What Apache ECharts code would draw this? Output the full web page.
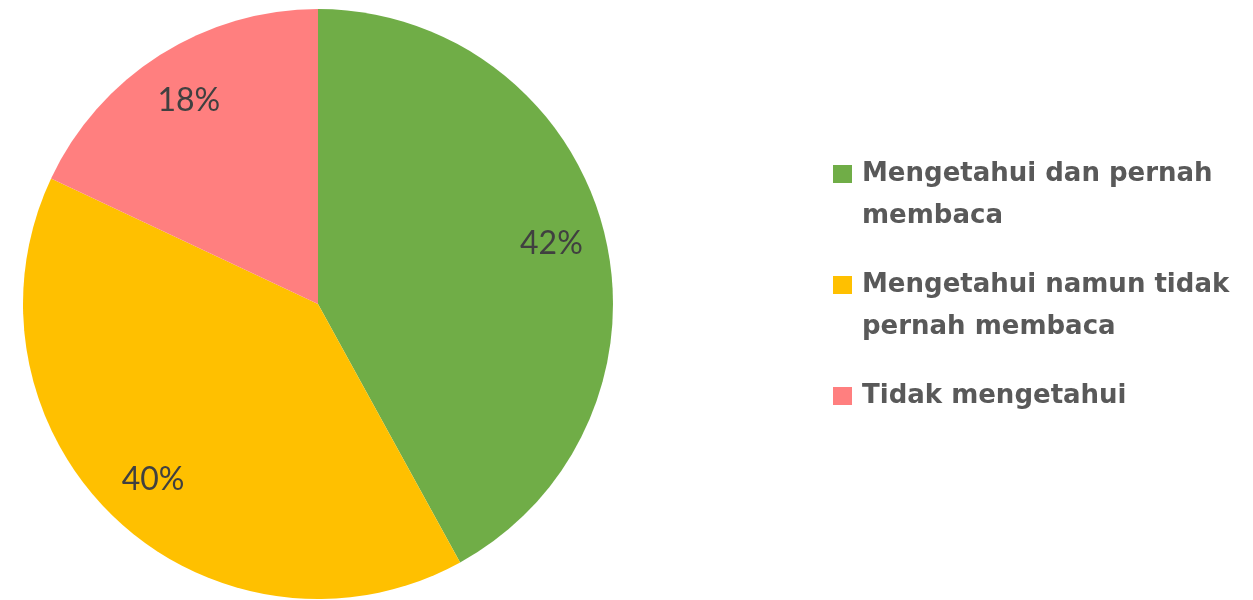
<!DOCTYPE html>
<html>
<head>
<meta charset="utf-8">
<script src="https://cdn.jsdelivr.net/npm/echarts@6/dist/echarts.min.js"></script>
<style>
  html, body { margin: 0; padding: 0; background: #ffffff; }
  #chart { width: 1253px; height: 600px; }
</style>
</head>
<body>
<div id="chart"></div>
<script>
// Survey answers and their shares (percent)
const categories = [
  'Mengetahui dan pernah membaca',
  'Mengetahui namun tidak pernah membaca',
  'Tidak mengetahui'
];
const shares = [42, 40, 18];
// How each legend entry breaks over lines
const legendLines = [
  ['Mengetahui dan pernah', 'membaca'],
  ['Mengetahui namun tidak', 'pernah membaca'],
  ['Tidak mengetahui']
];
const colors = ['#70AD47', '#FFC000', '#FF7F7F'];

const chart = echarts.init(document.getElementById('chart'), null, { renderer: 'canvas' });

const pieData = categories.map((name, i) => ({ name, value: shares[i] }));

// Rich styles: a coloured square per entry, a blank of the same width for wrapped lines
const rich = {
  blank: { width: 19, height: 18, lineHeight: 42 },
  gap: { width: 10, lineHeight: 42 },
  t: {
    fontFamily: 'DejaVu Sans',
    fontWeight: 'bold',
    fontSize: 26,
    color: '#595959',
    lineHeight: 42
  }
};
colors.forEach((c, i) => {
  rich['sq' + i] = { width: 19, height: 18, lineHeight: 42, backgroundColor: c };
});

const option = {
  backgroundColor: '#ffffff',
  animation: false,
  color: colors,
  legend: {
    orient: 'vertical',
    left: 823,
    top: 156,
    itemWidth: 0,
    itemHeight: 0,
    itemGap: 43,
    selectedMode: false,
    data: categories,
    formatter: function (name) {
      const i = categories.indexOf(name);
      return legendLines[i].map((line, k) =>
        (k === 0 ? '{sq' + i + '|}' : '{blank|}') + '{gap|}{t|' + line + '}'
      ).join('\n');
    },
    textStyle: { rich: rich }
  },
  series: [
    {
      type: 'pie',
      center: [318, 304],
      radius: [0, 295],
      startAngle: 90,
      clockwise: true,
      silent: true,
      label: { show: false },
      labelLine: { show: false },
      itemStyle: { borderWidth: 0 },
      data: pieData
    },
    {
      // Transparent ring used only to place the percentage labels near the rim
      type: 'pie',
      center: [318, 304],
      radius: [181, 295],
      startAngle: 90,
      clockwise: true,
      silent: true,
      itemStyle: { color: 'rgba(0,0,0,0)', borderWidth: 0 },
      label: {
        show: true,
        position: 'inside',
        formatter: '{c}%',
        fontFamily: 'Lato',
        fontSize: 32,
        color: '#404040'
      },
      labelLine: { show: false },
      data: pieData
    }
  ]
};

chart.setOption(option);
</script>
</body>
</html>
